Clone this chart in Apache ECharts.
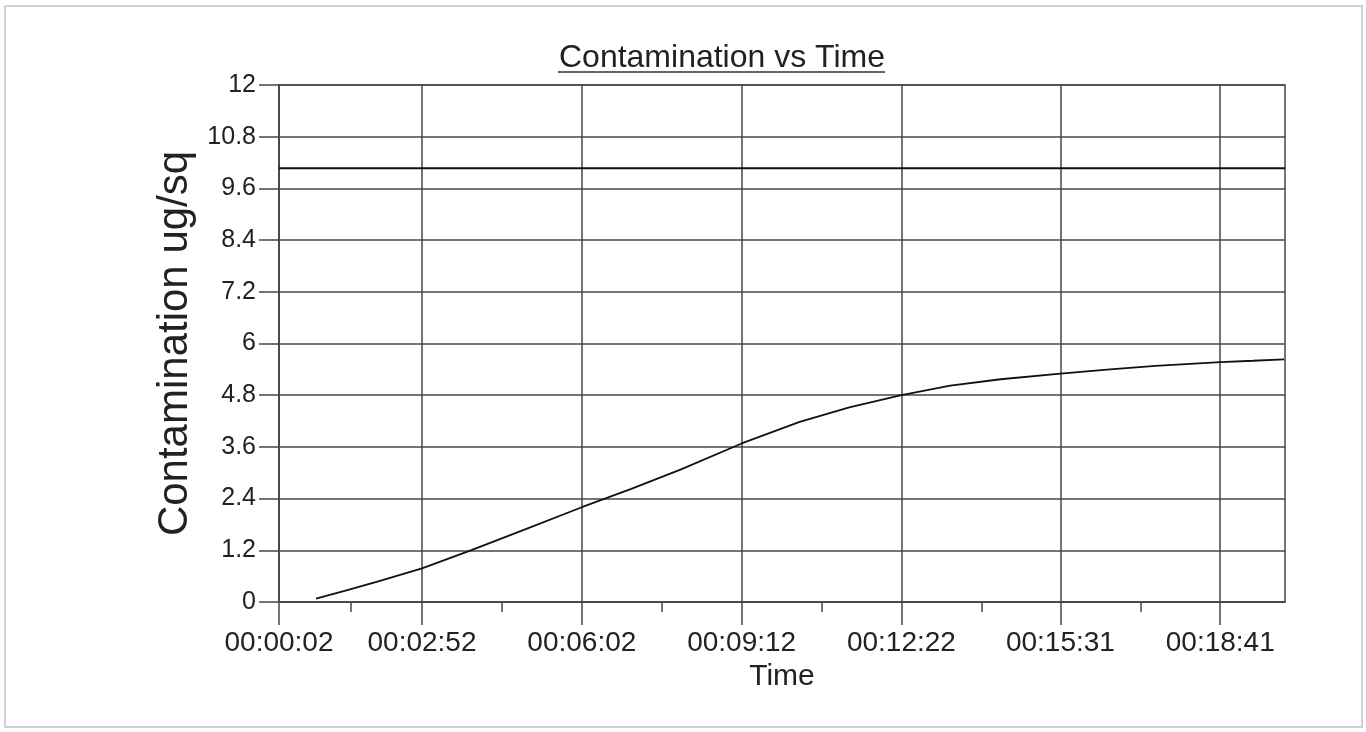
<!DOCTYPE html>
<html>
<head>
<meta charset="utf-8">
<script src="https://cdn.jsdelivr.net/npm/echarts@6/dist/echarts.min.js"></script>
<style>
html,body{margin:0;padding:0;background:#fff;}
#chart{width:1366px;height:732px;}
</style>
</head>
<body>
<div id="chart"></div>
<script>
// Time in seconds from start, contamination in ug/sq
var timeSeconds = [46, 80, 120, 172, 230, 290, 362, 420, 480, 552, 621, 680, 742, 800, 860, 931, 990, 1044, 1121, 1160, 1197];
var contamination = [0.08, 0.26, 0.48, 0.78, 1.20, 1.65, 2.20, 2.62, 3.08, 3.68, 4.18, 4.52, 4.80, 5.02, 5.17, 5.30, 5.40, 5.48, 5.57, 5.60, 5.63];
var thresholdValue = 10.07;
var xRange = [2, 1198];
var xMajorTicks = [2, 172, 362, 552, 742, 931, 1121];
var xMinorTicks = [87, 267, 457, 647, 837, 1026];
var yRange = [0, 12];
var yInterval = 1.2;

function fmtTime(s) {
  s = Math.round(s);
  var h = Math.floor(s / 3600), m = Math.floor((s % 3600) / 60), sec = s % 60;
  function p(n) { return (n < 10 ? '0' : '') + n; }
  return p(h) + ':' + p(m) + ':' + p(sec);
}

var FONT = '"Liberation Sans", Arial, sans-serif';
var GRID_COLOR = '#474747';

var chart = echarts.init(document.getElementById('chart'));
chart.setOption({
  backgroundColor: '#fff',
  animation: false,
  title: {
    text: 'Contamination vs Time',
    left: 717,
    textAlign: 'center',
    top: 37,
    textStyle: { fontFamily: FONT, fontSize: 32, fontWeight: 'normal', color: '#222' }
  },
  graphic: [
    { type: 'rect', shape: { x: 5, y: 6, width: 1357, height: 721 }, style: { fill: null, stroke: '#c4c4c4', lineWidth: 1.5 }, silent: true },
    { type: 'line', shape: { x1: 558, y1: 72, x2: 885, y2: 72 }, style: { stroke: '#333', lineWidth: 1.5 }, silent: true }
  ],
  grid: {
    left: 279, right: 81, top: 85, bottom: 130,
    show: true, borderColor: GRID_COLOR, borderWidth: 1.5,
    outerBoundsMode: 'none'
  },
  xAxis: [{
    type: 'value',
    min: xRange[0], max: xRange[1],
    name: 'Time',
    nameLocation: 'middle',
    nameGap: 58,
    nameTextStyle: { fontFamily: FONT, fontSize: 30, color: '#222' },
    axisLine: { show: true, lineStyle: { color: GRID_COLOR, width: 1.5 } },
    axisTick: { show: true, length: 23, customValues: xMajorTicks, lineStyle: { color: GRID_COLOR, width: 1.5 } },
    axisLabel: {
      customValues: xMajorTicks,
      margin: 27,
      fontFamily: FONT, fontSize: 28, color: '#222',
      formatter: function (v) { return fmtTime(v); }
    },
    splitLine: { show: true, lineStyle: { color: GRID_COLOR, width: 1.5 } }
  }, {
    type: 'value',
    min: xRange[0], max: xRange[1],
    position: 'bottom',
    axisLine: { show: false },
    axisTick: { show: true, length: 10, customValues: xMinorTicks, lineStyle: { color: GRID_COLOR, width: 1.5 } },
    axisLabel: { show: false, customValues: xMinorTicks },
    splitLine: { show: false }
  }],
  yAxis: {
    type: 'value',
    min: yRange[0], max: yRange[1], interval: yInterval,
    name: 'Contamination ug/sq',
    nameLocation: 'middle',
    nameGap: 76,
    nameTextStyle: { fontFamily: FONT, fontSize: 42, color: '#222' },
    axisLine: { show: true, lineStyle: { color: GRID_COLOR, width: 1.5 } },
    axisTick: { show: true, length: 20, lineStyle: { color: GRID_COLOR, width: 1.5 } },
    axisLabel: {
      margin: 23,
      fontFamily: FONT, fontSize: 25, color: '#222',
      formatter: function (v) { return String(parseFloat(v.toFixed(1))); }
    },
    splitLine: { show: true, lineStyle: { color: GRID_COLOR, width: 1.5 } }
  },
  series: [{
    type: 'line',
    xAxisIndex: 0,
    data: timeSeconds.map(function (t, i) { return [t, contamination[i]]; }),
    showSymbol: false,
    smooth: false,
    lineStyle: { color: '#111', width: 1.8 }
  }, {
    type: 'line',
    xAxisIndex: 0,
    data: [[xRange[0], thresholdValue], [xRange[1], thresholdValue]],
    showSymbol: false,
    lineStyle: { color: '#111', width: 2 }
  }]
});
</script>
</body>
</html>
